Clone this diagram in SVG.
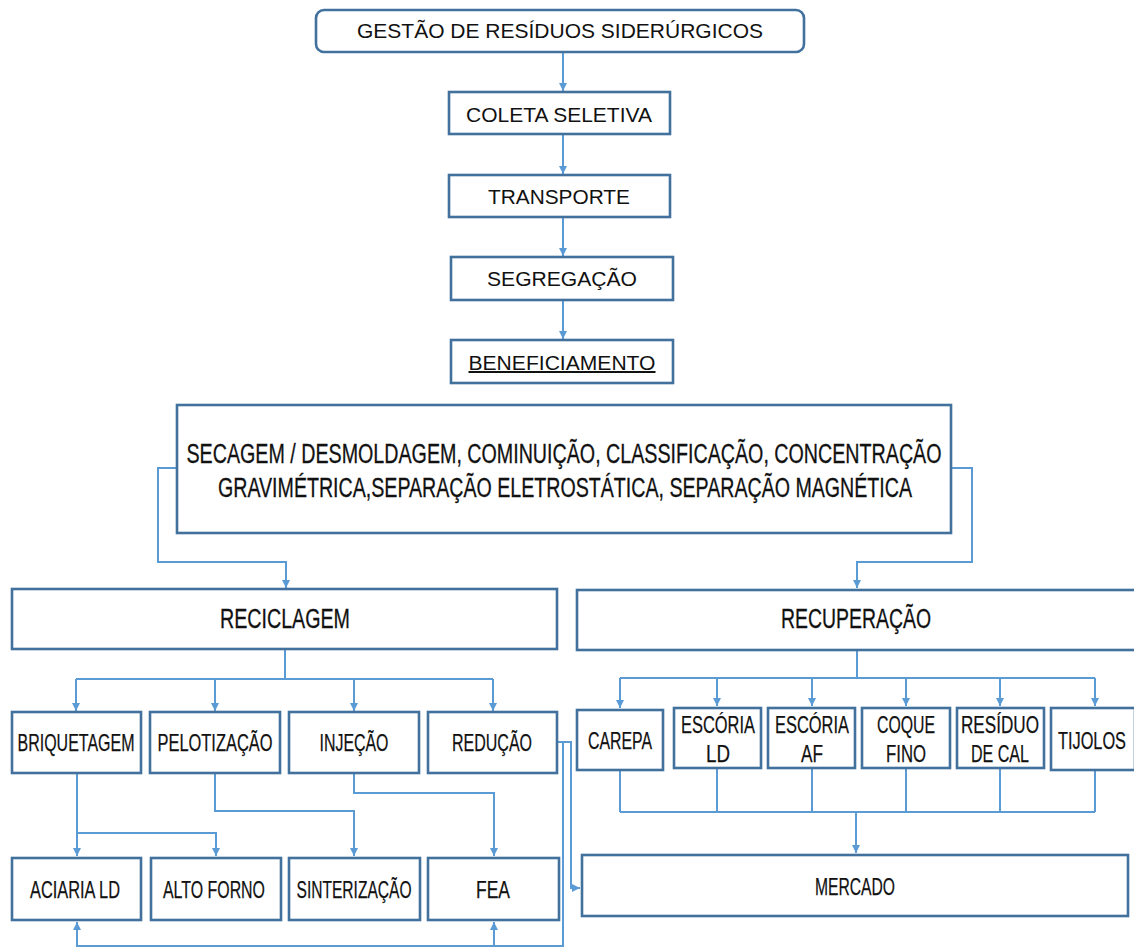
<svg xmlns="http://www.w3.org/2000/svg" width="1134" height="952" viewBox="0 0 1134 952">
<style>
.box{fill:#fff;stroke:#41719c;stroke-width:2.6}
.c{fill:none;stroke:#5b9bd5;stroke-width:2}
.t{font-family:"Liberation Sans",Arial,sans-serif;fill:#111;text-anchor:middle}
.s{font-size:24px;stroke:#111;stroke-width:0.25}
.m{font-size:27px;stroke:#111;stroke-width:0.3}
.h{font-size:20px}
</style>
<defs>
<marker id="ar" markerUnits="userSpaceOnUse" markerWidth="9" markerHeight="8" refX="8" refY="4" orient="auto">
<path d="M0,0 L8,4 L0,8 z" fill="#5b9bd5"/>
</marker>
</defs>
<rect width="1134" height="952" fill="#fff"/>
<g id="connectors">
<path class="c" d="M563,52 V91" marker-end="url(#ar)"/>
<path class="c" d="M563,134 V174" marker-end="url(#ar)"/>
<path class="c" d="M563,217 V256" marker-end="url(#ar)"/>
<path class="c" d="M563,300 V339" marker-end="url(#ar)"/>
<path class="c" d="M177,468 H158 V562 H286 V588" marker-end="url(#ar)"/>
<path class="c" d="M951,468 H972 V562 H857 V588" marker-end="url(#ar)"/>
<path class="c" d="M285,649 V679 M76,679 H493"/>
<path class="c" d="M76,679 V711" marker-end="url(#ar)"/>
<path class="c" d="M215,679 V711" marker-end="url(#ar)"/>
<path class="c" d="M354,679 V711" marker-end="url(#ar)"/>
<path class="c" d="M493,679 V711" marker-end="url(#ar)"/>
<path class="c" d="M857,650 V678 M620,678 H1095"/>
<path class="c" d="M620,678 V708" marker-end="url(#ar)"/>
<path class="c" d="M717,678 V706" marker-end="url(#ar)"/>
<path class="c" d="M812,678 V706" marker-end="url(#ar)"/>
<path class="c" d="M906,678 V706" marker-end="url(#ar)"/>
<path class="c" d="M1000,678 V706" marker-end="url(#ar)"/>
<path class="c" d="M1095,678 V706" marker-end="url(#ar)"/>
<path class="c" d="M620,770 V812 M717,768 V812 M812,768 V812 M906,768 V812 M1000,768 V812 M1095,768 V812 M620,812 H1095"/>
<path class="c" d="M856,812 V853" marker-end="url(#ar)"/>
<path class="c" d="M77,773 V856" marker-end="url(#ar)"/>
<path class="c" d="M77,833 H216 V856" marker-end="url(#ar)"/>
<path class="c" d="M215,773 V811 H354 V856" marker-end="url(#ar)"/>
<path class="c" d="M354,773 V793 H494 V856" marker-end="url(#ar)"/>
<path class="c" d="M557,742 H571 V888 H580" marker-end="url(#ar)"/>
<path class="c" d="M563,742 V946 H77 V922" marker-end="url(#ar)"/>
<path class="c" d="M494,946 V922" marker-end="url(#ar)"/>
</g>
<g id="n-gestao"><rect class="box" x="316" y="10" width="488" height="42" rx="8"/><text class="t h" x="560" y="38" textLength="406" lengthAdjust="spacingAndGlyphs">GESTÃO DE RESÍDUOS SIDERÚRGICOS</text></g>
<g id="n-coleta"><rect class="box" x="449" y="92" width="221" height="42"/><text class="t h" x="559" y="122" textLength="186" lengthAdjust="spacingAndGlyphs">COLETA SELETIVA</text></g>
<g id="n-transporte"><rect class="box" x="449" y="175" width="221" height="42"/><text class="t h" x="559" y="204" textLength="142" lengthAdjust="spacingAndGlyphs">TRANSPORTE</text></g>
<g id="n-segregacao"><rect class="box" x="451" y="257" width="222" height="43"/><text class="t h" x="562" y="286" textLength="150" lengthAdjust="spacingAndGlyphs">SEGREGAÇÃO</text></g>
<g id="n-beneficiamento"><rect class="box" x="451" y="340" width="222" height="43"/><text class="t h" x="562" y="370" textLength="187" lengthAdjust="spacingAndGlyphs" text-decoration="underline">BENEFICIAMENTO</text></g>
<g id="n-processos"><rect class="box" x="177" y="405" width="774" height="128"/>
<text class="t m" x="564" y="463" textLength="755" lengthAdjust="spacingAndGlyphs">SECAGEM / DESMOLDAGEM, COMINUIÇÃO, CLASSIFICAÇÃO, CONCENTRAÇÃO</text>
<text class="t m" x="565" y="497" textLength="694" lengthAdjust="spacingAndGlyphs">GRAVIMÉTRICA,SEPARAÇÃO  ELETROSTÁTICA, SEPARAÇÃO  MAGNÉTICA</text></g>
<g id="n-reciclagem"><rect class="box" x="12" y="589" width="545" height="60"/><text class="t m" x="285" y="628" textLength="130" lengthAdjust="spacingAndGlyphs">RECICLAGEM</text></g>
<g id="n-recuperacao"><rect class="box" x="577" y="590" width="560" height="60"/><text class="t m" x="856" y="628" textLength="150" lengthAdjust="spacingAndGlyphs">RECUPERAÇÃO</text></g>
<g id="n-briquetagem"><rect class="box" x="12" y="712" width="129" height="61"/><text class="t s" x="76" y="751" textLength="117" lengthAdjust="spacingAndGlyphs">BRIQUETAGEM</text></g>
<g id="n-pelotizacao"><rect class="box" x="150" y="712" width="130" height="61"/><text class="t s" x="215" y="751" textLength="115" lengthAdjust="spacingAndGlyphs">PELOTIZAÇÃO</text></g>
<g id="n-injecao"><rect class="box" x="289" y="712" width="130" height="61"/><text class="t s" x="354" y="751" textLength="69" lengthAdjust="spacingAndGlyphs">INJEÇÃO</text></g>
<g id="n-reducao"><rect class="box" x="428" y="712" width="129" height="61"/><text class="t s" x="492" y="751" textLength="80" lengthAdjust="spacingAndGlyphs">REDUÇÃO</text></g>
<g id="n-carepa"><rect class="box" x="577" y="710" width="86" height="60"/><text class="t s" x="620" y="749" textLength="64" lengthAdjust="spacingAndGlyphs">CAREPA</text></g>
<g id="n-escoria-ld"><rect class="box" x="674" y="708" width="87" height="60"/><text class="t s" x="718" y="733" textLength="74" lengthAdjust="spacingAndGlyphs">ESCÓRIA</text><text class="t s" x="718" y="762" textLength="24" lengthAdjust="spacingAndGlyphs">LD</text></g>
<g id="n-escoria-af"><rect class="box" x="768" y="708" width="87" height="60"/><text class="t s" x="812" y="733" textLength="74" lengthAdjust="spacingAndGlyphs">ESCÓRIA</text><text class="t s" x="812" y="762" textLength="22" lengthAdjust="spacingAndGlyphs">AF</text></g>
<g id="n-coque"><rect class="box" x="862" y="708" width="88" height="60"/><text class="t s" x="906" y="733" textLength="58" lengthAdjust="spacingAndGlyphs">COQUE</text><text class="t s" x="906" y="762" textLength="40" lengthAdjust="spacingAndGlyphs">FINO</text></g>
<g id="n-residuo"><rect class="box" x="957" y="708" width="87" height="60"/><text class="t s" x="1000" y="733" textLength="78" lengthAdjust="spacingAndGlyphs">RESÍDUO</text><text class="t s" x="1000" y="762" textLength="58" lengthAdjust="spacingAndGlyphs">DE CAL</text></g>
<g id="n-tijolos"><rect class="box" x="1051" y="708" width="84" height="62"/><text class="t s" x="1092" y="749" textLength="68" lengthAdjust="spacingAndGlyphs">TIJOLOS</text></g>
<g id="n-aciaria"><rect class="box" x="12" y="858" width="129" height="62"/><text class="t s" x="75" y="898" textLength="90" lengthAdjust="spacingAndGlyphs">ACIARIA LD</text></g>
<g id="n-altoforno"><rect class="box" x="151" y="858" width="130" height="62"/><text class="t s" x="214" y="898" textLength="102" lengthAdjust="spacingAndGlyphs">ALTO FORNO</text></g>
<g id="n-sinterizacao"><rect class="box" x="289" y="858" width="131" height="62"/><text class="t s" x="354" y="898" textLength="115" lengthAdjust="spacingAndGlyphs">SINTERIZAÇÃO</text></g>
<g id="n-fea"><rect class="box" x="428" y="858" width="131" height="62"/><text class="t s" x="493" y="898" textLength="34" lengthAdjust="spacingAndGlyphs">FEA</text></g>
<g id="n-mercado"><rect class="box" x="582" y="855" width="546" height="61"/><text class="t s" x="855" y="895" textLength="80" lengthAdjust="spacingAndGlyphs">MERCADO</text></g>
</svg>
